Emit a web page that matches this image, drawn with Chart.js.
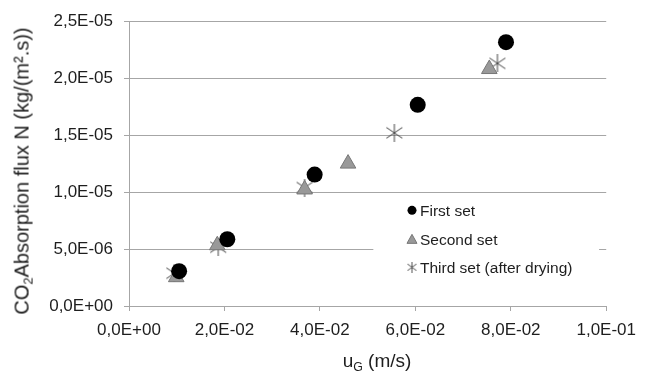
<!DOCTYPE html>
<html>
<head>
<meta charset="utf-8">
<script src="https://cdn.jsdelivr.net/npm/chart.js@4"></script>
<style>
body { margin: 0; background: #fff; }
#wrap { position: relative; width: 645px; height: 375px; font-family: "Liberation Sans", Arial, sans-serif; color: #1e1e1e; }
#c { position: absolute; left: 0; top: 0; }
.ytitle { position: absolute; left: 23px; top: 171px; transform: translate(-50%, -50%) rotate(-90deg); white-space: nowrap; font-size: 20px; }
.xtitle { position: absolute; left: 377px; top: 362px; transform: translate(-50%, -50%); white-space: nowrap; font-size: 19px; }
sub { font-size: 0.65em; vertical-align: -0.3em; }
</style>
</head>
<body>
<div id="wrap">
  <canvas id="c" width="645" height="375"></canvas>
  <div class="ytitle">CO<sub>2</sub>Absorption flux N (kg/(m².s))</div>
  <div class="xtitle">u<sub>G</sub> (m/s)</div>
</div>
<script>
var seriesNames = ['First set', 'Second set', 'Third set (after drying)'];
var firstX = [0.0105, 0.0206, 0.0389, 0.0605, 0.0790];
var firstY = [3.06e-6, 5.86e-6, 1.154e-5, 1.766e-5, 2.316e-5];
var secondX = [0.0099, 0.0185, 0.0368, 0.0459, 0.0755];
var secondY = [2.53e-6, 5.33e-6, 1.023e-5, 1.25e-5, 2.08e-5];
var thirdX = [0.0095, 0.0187, 0.0368, 0.0556, 0.0772];
var thirdY = [2.88e-6, 5.16e-6, 1.04e-5, 1.52e-5, 2.13e-5];

var font = '"Liberation Sans", Arial, sans-serif';

function pts(xs, ys) {
    return xs.map(function(x, i) { return { x: x, y: ys[i] }; });
}

// excel-ish number format: 2,5E-05
function sci(v) {
    if (Math.abs(v) < 1e-12) return '0,0E+00';
    var s = v.toExponential(1).split('e');
    var e = parseInt(s[1], 10);
    var a = Math.abs(e);
    return s[0].replace('.', ',') + 'E' + (e < 0 ? '-' : '+') + (a < 10 ? '0' : '') + a;
}

function starImg(size, color) {
    var c = document.createElement('canvas');
    c.width = size; c.height = size;
    var g = c.getContext('2d');
    g.strokeStyle = color;
    g.lineWidth = 1;
    var h = size / 2;
    g.beginPath();
    g.moveTo(h, 0); g.lineTo(h, size);
    g.moveTo(1, size * 0.2); g.lineTo(size - 1, size * 0.8);
    g.moveTo(size - 1, size * 0.2); g.lineTo(1, size * 0.8);
    g.stroke();
    return c;
}

var bigStar = starImg(18, '#444');

var legendPlugin = {
    id: 'boxLegend',
    afterDraw: function(chart) {
        var ctx = chart.ctx, a = chart.chartArea;
        var w = a.right - a.left, hgt = a.bottom - a.top;
        var bx = a.left + w * 0.512, by = a.top + hgt * 0.615;
        ctx.save();
        ctx.fillStyle = '#fff';
        ctx.fillRect(bx, by, w * 0.473, hgt * 0.31);
        var mx = a.left + w * 0.593, tx = mx + 8;
        var rows = [a.top + hgt * 0.664, a.top + hgt * 0.766, a.top + hgt * 0.864];
        // circle
        ctx.fillStyle = '#000';
        ctx.beginPath(); ctx.arc(mx, rows[0], 4.5, 0, Math.PI * 2); ctx.fill();
        // triangle
        ctx.fillStyle = '#999'; ctx.strokeStyle = '#777'; ctx.lineWidth = 1;
        ctx.beginPath();
        ctx.moveTo(mx, rows[1] - 5); ctx.lineTo(mx + 5, rows[1] + 4); ctx.lineTo(mx - 5, rows[1] + 4); ctx.closePath();
        ctx.fill(); ctx.stroke();
        // star
        ctx.drawImage(starImg(11, '#555'), mx - 5.5, rows[2] - 5.5);
        ctx.fillStyle = '#1e1e1e';
        ctx.font = '15.5px ' + font;
        ctx.textBaseline = 'middle';
        for (var i = 0; i < 3; i++) ctx.fillText(seriesNames[i], tx, rows[i] + 1);
        ctx.restore();
    }
};

new Chart(document.getElementById('c'), {
    type: 'scatter',
    data: {
        datasets: [
            { label: seriesNames[0], data: pts(firstX, firstY), pointStyle: 'circle', pointRadius: 8, backgroundColor: '#000', borderColor: '#000', borderWidth: 0 },
            { label: seriesNames[1], data: pts(secondX, secondY), pointStyle: 'triangle', pointRadius: 9, backgroundColor: '#999', borderColor: '#777', borderWidth: 1 },
            { label: seriesNames[2], data: pts(thirdX, thirdY), pointStyle: bigStar, pointRadius: 9 }
        ]
    },
    options: {
        responsive: false,
        animation: false,
        layout: { autoPadding: false, padding: { left: 0, right: 30, top: 20, bottom: 0 } },
        plugins: { legend: { display: false }, tooltip: { enabled: false } },
        scales: {
            x: {
                type: 'linear', min: 0, max: 0.1,
                afterFit: function(s) { s.height = 69; },
                border: { display: true, color: '#a6a6a6', width: 1 },
                grid: { drawOnChartArea: false, drawTicks: true, tickLength: 5, color: '#a6a6a6' },
                ticks: { stepSize: 0.02, padding: 9, color: '#1e1e1e', font: { family: font, size: 17 }, maxRotation: 0, callback: function(v) { return sci(v); } }
            },
            y: {
                type: 'linear', min: 0, max: 2.5e-5,
                afterFit: function(s) { s.width = 129; },
                border: { display: true, color: '#a6a6a6', width: 1 },
                grid: { drawTicks: true, tickLength: 5, color: '#a6a6a6' },
                ticks: { stepSize: 5e-6, padding: 11, color: '#1e1e1e', font: { family: font, size: 17 }, callback: function(v) { return sci(v); } }
            }
        }
    },
    plugins: [legendPlugin]
});
</script>
</body>
</html>
